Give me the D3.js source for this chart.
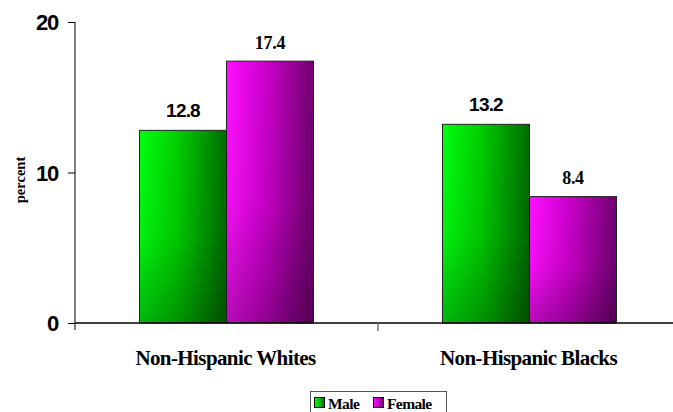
<!DOCTYPE html>
<html>
<head>
<meta charset="utf-8">
<script src="https://cdn.jsdelivr.net/npm/d3@7"></script>
<style>
  html, body { margin: 0; padding: 0; background: #fff; }
  svg { display: block; }
  .serif { font-family: "Liberation Serif", "Times New Roman", Times, "DejaVu Serif", serif; font-weight: bold; }
  .sans { font-family: "Liberation Sans", Arial, Helvetica, sans-serif; font-weight: bold; }
</style>
</head>
<body>
<svg id="chart" width="673" height="412"></svg>
<script>
// Prevalence by group and sex (percent)
const groups = ["Non-Hispanic Whites", "Non-Hispanic Blacks"];
const sexes = ["Male", "Female"];
const maleValues = [12.8, 13.2];
const femaleValues = [17.4, 8.4];
const yTicks = [0, 10, 20];

const svg = d3.select("#chart");

const x = d3.scaleBand().domain(groups).range([75, 681]);
const y = d3.scaleLinear().domain([0, 20]).range([323, 22]);

// gradients
const defs = svg.append("defs");
function barGradient(id, light, mid, dark) {
  const g = defs.append("linearGradient").attr("id", id)
    .attr("x1", "0%").attr("y1", "0%").attr("x2", "100%").attr("y2", "0%");
  g.append("stop").attr("offset", "0%").attr("stop-color", light);
  g.append("stop").attr("offset", "45%").attr("stop-color", mid);
  g.append("stop").attr("offset", "100%").attr("stop-color", dark);
}
barGradient("gMale", "#00ff10", "#00cc00", "#006c00");
barGradient("gFemale", "#ff10ff", "#cc00cc", "#700070");
const shade = defs.append("linearGradient").attr("id", "gShade")
  .attr("x1", "0%").attr("y1", "0%").attr("x2", "0%").attr("y2", "100%");
shade.append("stop").attr("offset", "0%").attr("stop-color", "#000").attr("stop-opacity", 0);
shade.append("stop").attr("offset", "55%").attr("stop-color", "#000").attr("stop-opacity", 0.05);
shade.append("stop").attr("offset", "100%").attr("stop-color", "#000").attr("stop-opacity", 0.28);

const series = [
  { key: "Male", values: maleValues, fill: "url(#gMale)", cls: "sans", size: 19, gap: 13, ls: -0.8 },
  { key: "Female", values: femaleValues, fill: "url(#gFemale)", cls: "serif", size: 18, gap: 12.5, ls: -0.3 }
];

const xs = d3.scaleBand().domain(sexes).range([0, 174]);
const groupStart = g => x(g) + (x.bandwidth() - 174) / 2;

// y axis (drawn first so bars sit on top)
const yAxis = d3.axisLeft(y).tickValues(yTicks).tickSize(7).tickPadding(10).tickFormat(d3.format("d"));
const yg = svg.append("g").attr("transform", "translate(75,0)").call(yAxis);
yg.attr("font-family", null).attr("font-size", null);
yg.select(".domain").remove();
yg.append("line").attr("x1", 0).attr("x2", 0).attr("y1", 22).attr("y2", 330).attr("stroke", "#000");
yg.selectAll(".tick line").attr("stroke", "#000");
yg.selectAll(".tick text")
  .attr("class", "sans")
  .attr("font-size", 22).attr("fill", "#000")
  .attr("letter-spacing", -1.2)
  .attr("dy", "0.36em");

series.forEach(s => {
  const gSel = svg.append("g");
  groups.forEach((grp, i) => {
    const bx = groupStart(grp) + xs(s.key);
    const v = s.values[i];
    gSel.append("rect")
      .attr("x", bx).attr("y", y(v))
      .attr("width", xs.bandwidth()).attr("height", y(0) - y(v))
      .attr("fill", s.fill);
    gSel.append("rect")
      .attr("x", bx).attr("y", y(v))
      .attr("width", xs.bandwidth()).attr("height", y(0) - y(v))
      .attr("fill", "url(#gShade)")
      .attr("stroke", "#222").attr("stroke-width", 1);
    gSel.append("text")
      .attr("class", s.cls)
      .attr("x", bx + xs.bandwidth() / 2).attr("y", y(v) - s.gap)
      .attr("text-anchor", "middle")
      .attr("font-size", s.size)
      .attr("letter-spacing", s.ls)
      .text(v.toFixed(1));
  });
});

// x axis
svg.append("line").attr("x1", 75).attr("x2", 673).attr("y1", 323).attr("y2", 323)
  .attr("stroke", "#000").attr("stroke-width", 1.5);
svg.append("line").attr("x1", x(groups[1])).attr("x2", x(groups[1]))
  .attr("y1", 323).attr("y2", 331).attr("stroke", "#777").attr("stroke-width", 1.5);

svg.append("g").selectAll("text").data(groups).join("text")
  .attr("class", "serif")
  .attr("x", d => x(d) + x.bandwidth() / 2 - 1)
  .attr("y", 365)
  .attr("text-anchor", "middle")
  .attr("font-size", 21)
  .attr("letter-spacing", -0.6)
  .text(d => d);

// axis title
svg.append("text")
  .attr("class", "serif")
  .attr("transform", "translate(25,180) rotate(-90)")
  .attr("text-anchor", "middle")
  .attr("font-size", 14.5)
  .text("percent");

// legend
const leg = svg.append("g");
leg.append("rect").attr("x", 310.5).attr("y", 391.5).attr("width", 136).attr("height", 26)
  .attr("fill", "#fff").attr("stroke", "#555");
const legItems = [
  { key: "Male", fill: "url(#gMale)", x: 314 },
  { key: "Female", fill: "url(#gFemale)", x: 373 }
];
legItems.forEach(d => {
  leg.append("rect").attr("x", d.x + 0.5).attr("y", 397.5).attr("width", 10).attr("height", 10)
    .attr("fill", d.fill).attr("stroke", "#000");
  leg.append("text").attr("class", "serif")
    .attr("x", d.x + 14).attr("y", 408.5)
    .attr("font-size", 15.5)
    .attr("letter-spacing", -0.6)
    .text(d.key);
});
</script>
</body>
</html>
